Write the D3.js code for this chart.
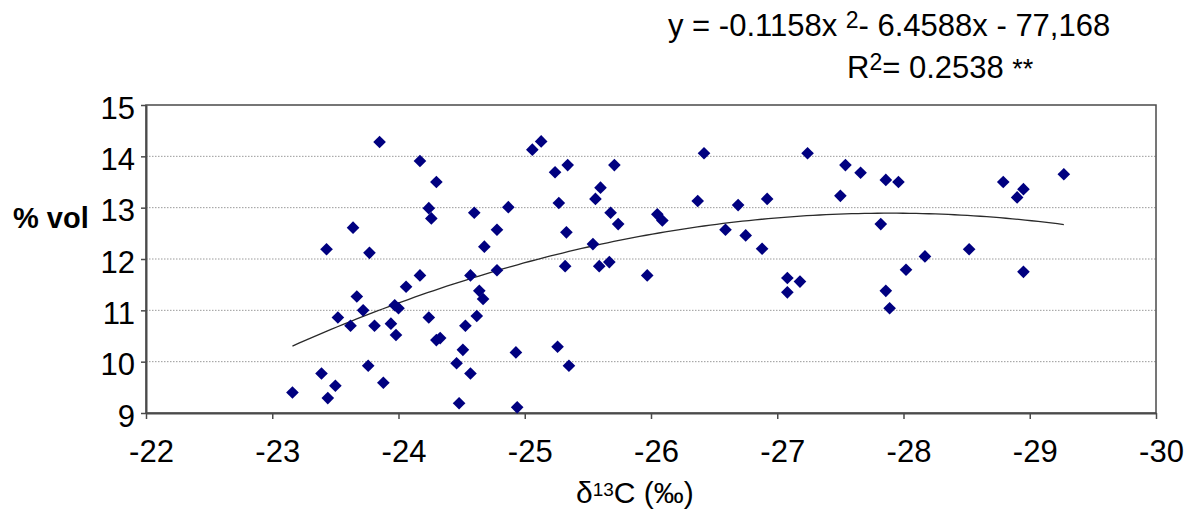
<!DOCTYPE html>
<html>
<head>
<meta charset="utf-8">
<script src="https://cdn.jsdelivr.net/npm/d3@7"></script>
<style>
  html, body { margin: 0; padding: 0; background: #fff; }
  svg { display: block; font-family: "Liberation Sans", Arial, sans-serif; }
</style>
</head>
<body>
<svg id="chart" width="1189" height="511"></svg>
<script>
// δ13C (‰) of each sample
const delta13C = [
  -23.16, -23.39, -23.44, -23.50, -23.43, -23.64, -23.77, -23.85, -23.67, -23.72,
  -23.52, -23.62, -23.81, -23.94, -23.98, -23.97, -24.00, -23.76, -23.88,
  -24.17, -24.30, -24.24, -24.26, -24.60, -24.87, -24.78, -24.68, -24.78, -24.57,
  -24.17, -24.06, -24.64, -24.67, -24.24, -24.53, -24.62, -24.30, -24.33, -24.51,
  -24.46, -24.57, -24.48, -24.94, -24.93, -25.06, -25.13, -25.24, -25.34, -25.27,
  -25.33, -25.32, -25.26, -25.35, -25.56, -25.60, -25.71, -25.68, -25.74, -25.54,
  -25.59, -25.67, -25.97, -26.05, -26.09, -26.37, -26.42, -26.69, -26.59, -26.75,
  -26.88, -26.92,
  -27.24, -27.08, -27.18, -27.08, -27.50, -27.54, -27.66, -27.86, -27.96, -27.82,
  -27.86, -27.89, -28.02, -28.17, -28.52, -28.79, -28.95, -28.90, -28.95, -29.27
];
// alcohol content (% vol) of the same samples
const alcoholVol = [
   9.40,  9.77,  9.29,  9.53, 12.19, 12.61, 12.12, 14.28, 11.27, 11.00,
  10.86, 10.70, 10.70, 10.74, 10.52, 11.10, 11.04,  9.92,  9.59,
  13.91, 13.50, 12.99, 12.79, 12.90, 13.01, 12.57, 12.24, 11.78, 11.68,
  11.68, 11.46, 11.38, 11.22, 10.86, 10.70, 10.89, 10.42, 10.46, 10.23,
   9.97,  9.77,  9.19,  9.11, 10.18, 14.13, 14.29, 13.69, 13.83, 13.09,
  12.52, 11.86, 10.29,  9.92, 13.17, 13.39, 13.83, 12.90, 12.68, 12.29,
  11.86, 11.94, 11.68, 12.87, 12.75, 13.13, 14.06, 13.05, 12.57, 12.46,
  12.20, 13.17,
  14.06, 11.63, 11.56, 11.35, 13.23, 13.83, 13.68, 13.54, 13.50, 12.68,
  11.38, 11.04, 11.79, 12.05, 12.19, 13.50, 13.36, 13.20, 11.75, 13.65
];
// quadratic trend: y = a·x² + b·x + c
const trendCoefficients = [-0.1158, -6.4588, -77.168];
const rSquared = "0.2538";

const xTicks = [-22, -23, -24, -25, -26, -27, -28, -29, -30];
const yTicks = [9, 10, 11, 12, 13, 14, 15];

const svg = d3.select("#chart");
const plot = { left: 146, right: 1156, top: 105, bottom: 413 };

const x = d3.scaleLinear().domain([-22, -30]).range([plot.left, plot.right]);
const y = d3.scaleLinear().domain([9, 15]).range([plot.bottom, plot.top]);

// horizontal gridlines
svg.append("g")
  .selectAll("line")
  .data(yTicks.filter(t => t > 9 && t < 15))
  .join("line")
  .attr("x1", plot.left).attr("x2", plot.right)
  .attr("y1", d => y(d)).attr("y2", d => y(d))
  .attr("stroke", "#9a9a9a")
  .attr("stroke-width", 1)
  .attr("stroke-dasharray", "1.5,1.5");

// plot-area frame
svg.append("rect")
  .attr("x", plot.left).attr("y", plot.top)
  .attr("width", plot.right - plot.left).attr("height", plot.bottom - plot.top)
  .attr("fill", "none").attr("stroke", "#4a4a4a").attr("stroke-width", 1.5);

// x axis
const xAxis = svg.append("g")
  .attr("transform", `translate(0,${plot.bottom})`)
  .call(d3.axisBottom(x).tickValues(xTicks).tickSize(6).tickSizeOuter(0).tickFormat(d3.format("d")));
xAxis.select(".domain").attr("stroke", "#4a4a4a").attr("stroke-width", 2);
xAxis.selectAll(".tick line").attr("stroke", "#4a4a4a").attr("stroke-width", 1.5);
xAxis.selectAll(".tick text")
  .text(d => String(d))
  .attr("font-size", 31).attr("fill", "#000")
  .attr("dx", 5).attr("y", 0).attr("dy", 0)
  .attr("transform", "translate(0,49)");

// y axis
const yAxis = svg.append("g")
  .attr("transform", `translate(${plot.left},0)`)
  .call(d3.axisLeft(y).tickValues(yTicks).tickSize(5).tickSizeOuter(0).tickFormat(d3.format("d")));
yAxis.select(".domain").attr("stroke", "#4a4a4a").attr("stroke-width", 2);
yAxis.selectAll(".tick line").attr("stroke", "#4a4a4a").attr("stroke-width", 1.5);
yAxis.selectAll(".tick text")
  .attr("font-size", 31).attr("fill", "#000")
  .attr("x", -11).attr("dy", "0.42em");

// trend curve across the sampled δ13C range
const [xMin, xMax] = d3.extent(delta13C);
const [a, b, c] = trendCoefficients;
const curveXs = d3.range(0, 121).map(i => xMin + (xMax - xMin) * i / 120);
svg.append("path")
  .datum(curveXs)
  .attr("fill", "none")
  .attr("stroke", "#2a2a2a")
  .attr("stroke-width", 1.3)
  .attr("d", d3.line().x(d => x(d)).y(d => y(a * d * d + b * d + c)));

// sample markers (navy diamonds)
const diamond = d3.symbol().type(d3.symbolSquare).size(80)();
svg.append("g")
  .selectAll("path")
  .data(d3.range(delta13C.length))
  .join("path")
  .attr("d", diamond)
  .attr("transform", i => `translate(${x(delta13C[i])},${y(alcoholVol[i])}) rotate(45)`)
  .attr("fill", "#000080");

// axis titles
svg.append("text")
  .attr("x", 13).attr("y", 228)
  .attr("font-size", 29).attr("font-weight", "bold")
  .text("% vol");

const xTitle = svg.append("text")
  .attr("x", 576).attr("y", 503)
  .attr("font-size", 30);
xTitle.append("tspan").text("δ");
xTitle.append("tspan").attr("font-size", 19).attr("dy", -7).text("13");
xTitle.append("tspan").attr("dy", 7).text("C (‰)");

// fitted equation and coefficient of determination
const fmt = v => Math.abs(v).toFixed(4);
const eq = svg.append("text").attr("x", 668).attr("y", 36).attr("font-size", 31);
eq.append("tspan").text(`y = ${a < 0 ? "-" : ""}${fmt(a)}x `);
eq.append("tspan").attr("font-size", 23).attr("dy", -8).text("2");
eq.append("tspan").attr("dy", 8)
  .text(`- ${fmt(b)}x - ${String(Math.abs(c)).replace(".", ",")}`);

const r2 = svg.append("text").attr("x", 847).attr("y", 78).attr("font-size", 31);
r2.append("tspan").text("R");
r2.append("tspan").attr("font-size", 23).attr("dy", -8).text("2");
r2.append("tspan").attr("dy", 8).text(`= ${rSquared} `);
r2.append("tspan").attr("font-size", 27).text("**");
</script>
</body>
</html>
